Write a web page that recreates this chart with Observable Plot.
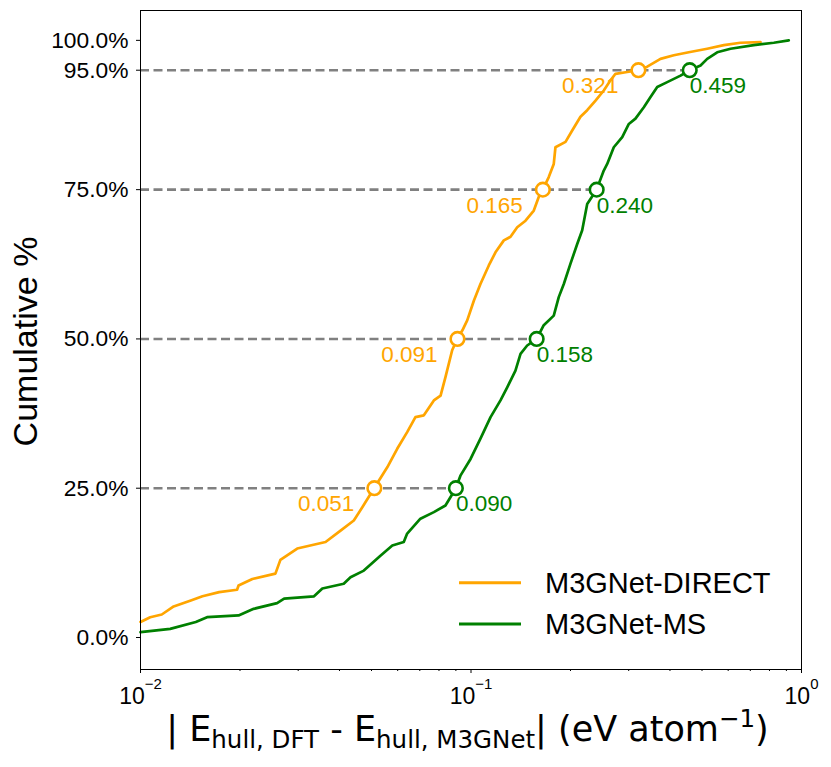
<!DOCTYPE html>
<html>
<head>
<meta charset="utf-8">
<script src="https://cdn.jsdelivr.net/npm/d3@7"></script>
<script src="https://cdn.jsdelivr.net/npm/@observablehq/plot@0.6"></script>
<style>
  body { margin: 0; background: #fff; }
  #wrap { width: 831px; height: 767px; }
</style>
</head>
<body>
<div id="wrap"></div>
<script>
// ---- data ----
const seriesNames = ["M3GNet-DIRECT", "M3GNet-MS"];
const seriesColors = ["orange", "green"];

const directX = [0.0100, 0.0107, 0.0116, 0.0126, 0.0142, 0.0154, 0.0173, 0.0196, 0.0198, 0.0218,
  0.0256, 0.0265, 0.0298, 0.0363, 0.0403, 0.0442, 0.0469, 0.0508, 0.0558, 0.0598,
  0.0641, 0.0679, 0.0720, 0.0772, 0.0809, 0.0837, 0.0877, 0.0908, 0.0941, 0.0974,
  0.1020, 0.1068, 0.1132, 0.1186, 0.1257, 0.1317, 0.1380, 0.1462, 0.1549, 0.1604,
  0.1650, 0.1719, 0.1780, 0.1801, 0.1932, 0.2024, 0.2144, 0.2247, 0.2381, 0.2522,
  0.2643, 0.2736, 0.2970, 0.3210, 0.3414, 0.3744, 0.4108, 0.4560, 0.5184, 0.5821,
  0.6537, 0.7515];
const directY = [2.6, 3.4, 3.85, 5.2, 6.2, 6.9, 7.6, 8.0, 8.7, 9.8,
  10.7, 13.0, 14.9, 16.0, 17.9, 19.6, 21.8, 24.9, 28.5, 31.6,
  34.4, 36.9, 37.2, 39.7, 40.5, 43.6, 48.1, 50.0, 51.4, 53.1,
  56.4, 59.2, 62.3, 64.5, 66.5, 67.1, 68.7, 69.8, 71.5, 73.8,
  75.0, 77.1, 79.3, 82.1, 83.0, 84.9, 87.2, 88.3, 89.9, 91.6,
  93.3, 94.4, 94.7, 95.0, 95.6, 96.9, 97.5, 98.0, 98.6, 99.2,
  99.6, 99.7];

const msX = [0.0100, 0.0123, 0.0147, 0.0159, 0.0198, 0.0220, 0.0259, 0.0272, 0.0335, 0.0355,
  0.0412, 0.0432, 0.0474, 0.0532, 0.0578, 0.0626, 0.0641, 0.0703, 0.0772, 0.0837,
  0.0898, 0.0929, 0.0997, 0.1068, 0.1146, 0.1228, 0.1287, 0.1363, 0.1412, 0.1479,
  0.1580, 0.1660, 0.1780, 0.1843, 0.1909, 0.2000, 0.2096, 0.2170, 0.2247, 0.2399,
  0.2522, 0.2583, 0.2704, 0.2868, 0.3003, 0.3145, 0.3334, 0.3493, 0.3660, 0.3924,
  0.4305, 0.4590, 0.4949, 0.5184, 0.5558, 0.6100, 0.7173, 0.8245, 0.9152];
const msY = [0.9, 1.45, 2.6, 3.4, 3.7, 4.8, 5.75, 6.5, 6.9, 8.2,
  9.0, 10.1, 11.2, 13.7, 15.4, 16.0, 17.4, 19.9, 21.0, 22.1,
  24.9, 27.1, 29.9, 33.3, 36.9, 39.7, 41.9, 44.7, 47.5, 48.9,
  50.0, 52.3, 53.9, 57.0, 59.2, 62.6, 65.9, 68.2, 72.6, 75.0,
  78.2, 79.3, 82.1, 83.8, 86.0, 86.9, 88.8, 90.5, 92.2, 93.0,
  94.1, 95.0, 95.8, 96.9, 98.0, 98.6, 99.2, 99.6, 100];

const levels = [25, 50, 75, 95];
const directQ = [0.051, 0.091, 0.165, 0.321];
const msQ = [0.090, 0.158, 0.240, 0.459];

const yTicks = [0, 25, 50, 75, 95, 100];
const xMajorTicks = [0.01, 0.1, 1];
const xMinorTicks = [];
for (const k of [0.01, 0.1]) for (let m = 2; m <= 9; m++) xMinorTicks.push(m * k);

const xDomain = [0.01, 1];
const yDomain = [-5.36, 105];

// ---- tables built from arrays ----
const directData = directX.map((x, i) => ({x, y: directY[i]}));
const msData = msX.map((x, i) => ({x, y: msY[i]}));
const quant = levels.map((p, i) => ({p, direct: directQ[i], ms: msQ[i]}));

const W = 831, H = 767, ML = 140, MR = 30, MT = 10, MB = 98;
const sans = "'Liberation Sans', Arial, Helvetica, sans-serif";

const chart = Plot.plot({
  width: W, height: H,
  marginLeft: ML, marginRight: MR, marginTop: MT, marginBottom: MB,
  style: {fontFamily: sans, fontSize: "22px", background: "white", color: "black", overflow: "visible"},
  x: {type: "log", domain: xDomain},
  y: {domain: yDomain},
  marks: [
    Plot.ruleY(quant, {y: "p", x1: () => xDomain[0], x2: "ms", stroke: "#808080", strokeWidth: 2.6, strokeDasharray: "9,4.5"}),
    Plot.line(directData, {x: "x", y: "y", stroke: seriesColors[0], strokeWidth: 2.7}),
    Plot.line(msData, {x: "x", y: "y", stroke: seriesColors[1], strokeWidth: 2.7}),
    Plot.dot(quant, {x: "direct", y: "p", r: 6.8, stroke: seriesColors[0], fill: "white", strokeWidth: 2.6}),
    Plot.dot(quant, {x: "ms", y: "p", r: 6.8, stroke: seriesColors[1], fill: "white", strokeWidth: 2.6}),
    Plot.text(quant, {x: "direct", y: "p", text: d => d.direct.toFixed(3), fill: seriesColors[0],
      textAnchor: "end", lineAnchor: "top", dx: -20, dy: 7, fontSize: 22.5}),
    Plot.text(quant, {x: "ms", y: "p", text: d => d.ms.toFixed(3), fill: seriesColors[1],
      textAnchor: "start", lineAnchor: "top", dx: 0, dy: 7, fontSize: 22.5}),
    Plot.axisY({ticks: yTicks, tickFormat: d => d.toFixed(1) + "%", tickSize: 4, tickPadding: 8, label: null, fontSize: 22.8}),
    Plot.axisX({ticks: xMinorTicks, tickSize: 2, text: null, label: null}),
    Plot.axisX({ticks: xMajorTicks, tickSize: 4, tickPadding: 14, label: null, fontSize: 23,
      tickFormat: d => "10^" + Math.round(Math.log10(d))}),
    Plot.frame({stroke: "black", strokeWidth: 1})
  ]
});

document.getElementById("wrap").appendChild(chart);

const svg = d3.select(chart);

// superscript exponents on x tick labels
svg.selectAll("text").each(function () {
  const s = this.textContent || "";
  if (!/^10\^-?\d+$/.test(s)) return;
  const e = s.split("^")[1].replace("-", "\u2212");
  const t = d3.select(this);
  t.text(null);
  t.append("tspan").text("10");
  t.append("tspan").attr("dy", -15).attr("font-size", 15).text(e);
});

// y label
const cy = MT + (H - MT - MB) / 2;
svg.append("text")
  .attr("transform", `translate(37,${cy + 2}) rotate(-90)`)
  .attr("text-anchor", "middle")
  .attr("font-family", sans)
  .attr("font-size", 34)
  .attr("fill", "black")
  .text("Cumulative %");

// x label (mathtext style)
const cx = ML + (W - ML - MR) / 2 - 3;
const xl = svg.append("text")
  .attr("x", cx).attr("y", 741)
  .attr("text-anchor", "middle")
  .attr("font-family", "'DejaVu Sans', sans-serif")
  .attr("font-size", 35)
  .attr("fill", "black");
xl.append("tspan").text("| E");
xl.append("tspan").attr("font-size", 24.5).attr("dy", 7).text("hull, DFT");
xl.append("tspan").attr("dy", -7).text(" - E");
xl.append("tspan").attr("font-size", 24.5).attr("dy", 7).text("hull, M3GNet");
xl.append("tspan").attr("dy", -7).text("| (eV atom");
xl.append("tspan").attr("font-size", 24.5).attr("dy", -14).text("\u22121");
xl.append("tspan").attr("dy", 14).text(")");

// legend (inside axes, lower right)
const leg = svg.append("g").attr("text-anchor", "start");
seriesNames.forEach((name, i) => {
  const ly = 582.7 + i * 41.3;
  leg.append("line").attr("x1", 459).attr("x2", 521).attr("y1", ly).attr("y2", ly)
    .attr("stroke", seriesColors[i]).attr("stroke-width", 3);
  leg.append("text").attr("x", 545).attr("y", ly + 9.8)
    .attr("text-anchor", "start")
    .attr("font-family", sans).attr("font-size", 29).attr("fill", "black").text(name);
});
</script>
</body>
</html>
